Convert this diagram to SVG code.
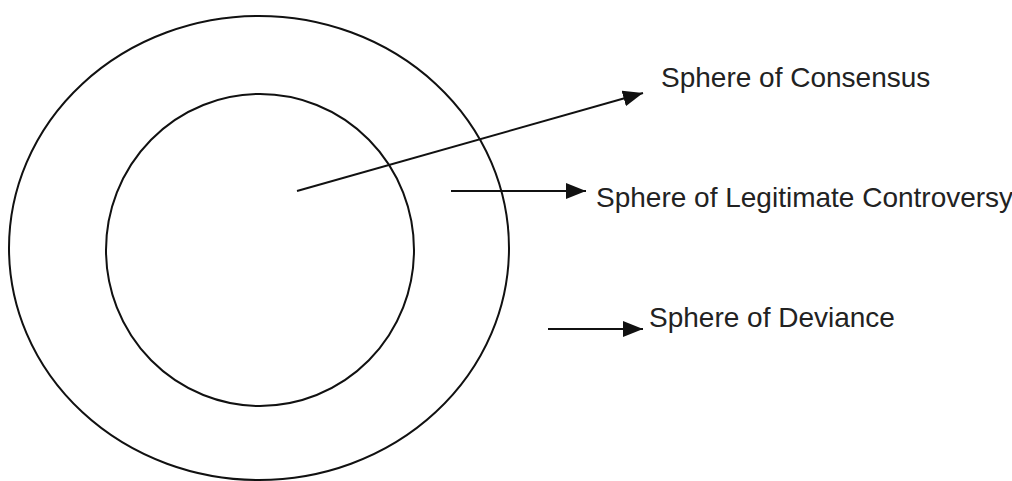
<svg xmlns="http://www.w3.org/2000/svg" width="1012" height="481" viewBox="0 0 1012 481">
<style>
.ring{fill:none;stroke:#111;stroke-width:2}
.conn{stroke:#111;stroke-width:2;fill:none}
.lbl{font-family:"Liberation Sans",Arial,sans-serif;font-size:28px;fill:#222}
</style>
<defs>
<marker id="ah" viewBox="0 0 20 16" refX="20" refY="8" markerWidth="20" markerHeight="16" markerUnits="userSpaceOnUse" orient="auto">
<path d="M0,0 L20,8 L0,16 z" fill="#111"/>
</marker>
</defs>
<rect width="1012" height="481" fill="#fff"/>
<g id="outer"><ellipse class="ring" cx="259" cy="248" rx="250" ry="232"/></g>
<g id="inner"><ellipse class="ring" cx="260" cy="250" rx="154" ry="156"/></g>
<g id="connectors">
<line class="conn" x1="297" y1="191" x2="643" y2="93" marker-end="url(#ah)"/>
<line class="conn" x1="451" y1="191" x2="586" y2="191" marker-end="url(#ah)"/>
<line class="conn" x1="548" y1="329" x2="643" y2="329" marker-end="url(#ah)"/>
</g>
<g id="consensus"><text class="lbl" x="661" y="87">Sphere of Consensus</text></g>
<g id="controversy"><text class="lbl" x="596" y="207">Sphere of Legitimate Controversy</text></g>
<g id="deviance"><text class="lbl" x="649" y="327">Sphere of Deviance</text></g>
</svg>
